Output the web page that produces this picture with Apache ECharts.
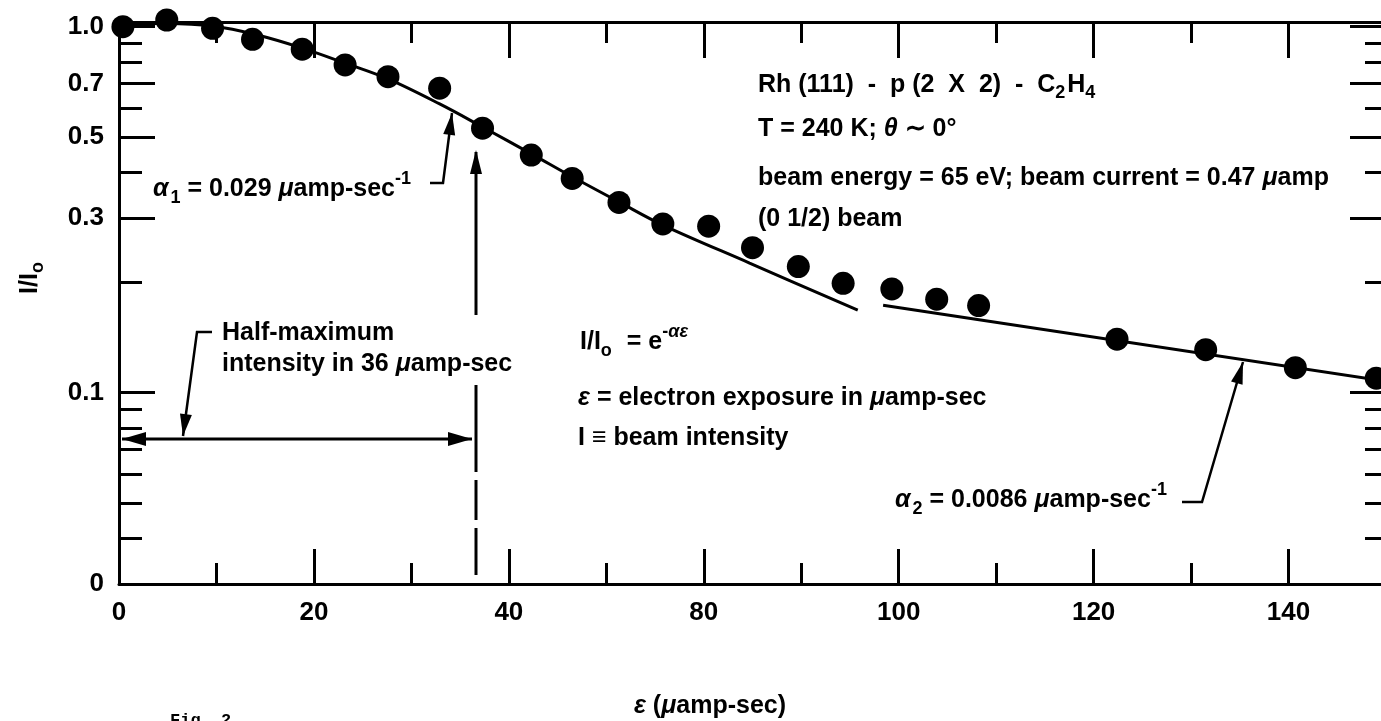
<!DOCTYPE html>
<html>
<head>
<meta charset="utf-8">
<script src="https://cdn.jsdelivr.net/npm/echarts@6/dist/echarts.min.js"></script>
<style>
html, body { margin: 0; padding: 0; background: #fff; }
#chart { width: 1381px; height: 721px; }
</style>
</head>
<body>
<div id="chart"></div>
<script>
// measured spots: electron exposure (uamp-sec) and I/Io
const exposure = [0.4, 4.9, 9.6, 13.7, 18.8, 23.2, 27.6, 32.9, 37.3, 42.3, 46.5, 51.3, 55.8, 60.5, 65.0, 69.7, 74.3, 79.3, 83.9, 88.2, 102.4, 111.5, 120.7, 129.0];
const intensity = [1.0, 1.043, 0.99, 0.924, 0.868, 0.786, 0.73, 0.679, 0.528, 0.446, 0.385, 0.331, 0.289, 0.285, 0.249, 0.221, 0.199, 0.192, 0.18, 0.173, 0.14, 0.131, 0.117, 0.1095];

// fitted curve, alpha1
const fit1X = [0, 4.9, 9.6, 14.2, 18.8, 23.2, 27.6, 32.9, 37.3, 42.4, 46.5, 51.3, 55.8, 64.7, 75.8];
const fit1Y = [1.017, 1.02, 1.004, 0.949, 0.874, 0.795, 0.72, 0.615, 0.532, 0.448, 0.389, 0.332, 0.287, 0.226, 0.168];
// fitted line, alpha2
const fit2X = [78.4, 130];
const fit2Y = [0.1733, 0.1075];

const xMajor = [0, 20, 40, 60, 80, 100, 120];
const xMinor = [10, 30, 50, 70, 90, 110];
const xTickLabels = ['0', '20', '40', '80', '100', '120', '140']; // as printed on the figure
const yMajor = [1.0, 0.7, 0.5, 0.3, 0.1, 0.03];
const yMinor = [0.9, 0.8, 0.6, 0.4, 0.2, 0.09, 0.08, 0.07, 0.06, 0.05, 0.04];
const yTickLabels = ['1.0', '0.7', '0.5', '0.3', '0.1', '0'];

const halfMax = 36.6;     // half-maximum exposure marker
const arrowLevel = 0.0747; // height of the double arrow

const FONT = '"Liberation Sans", Arial, Helvetica, sans-serif';
const labelStyle = { color: '#000', fontFamily: FONT, fontWeight: 'bold', fontSize: 26 };

function pairs(xs, ys) {
	return xs.map((x, i) => [x, ys[i]]);
}

function axisBase(pos, ticks, len, showLine) {
	return {
		position: pos,
		axisLine: { show: showLine, onZero: false, lineStyle: { color: '#000', width: 3 } },
		axisTick: { show: true, inside: true, length: len, customValues: ticks, lineStyle: { color: '#000', width: 3 } },
		axisLabel: { show: false },
		splitLine: { show: false },
	};
}
function xAxisDef(pos, ticks, len, showLine) {
	return Object.assign(axisBase(pos, ticks, len, showLine), { type: 'value', min: 0, max: 130 });
}
function yAxisDef(pos, ticks, len, showLine) {
	return Object.assign(axisBase(pos, ticks, len, showLine), { type: 'log', logBase: 10, min: 0.03, max: 1.03 });
}

const xMain = xAxisDef('bottom', xMajor, 35, true);
xMain.axisLabel = Object.assign({}, labelStyle, {
	show: true,
	margin: 16,
	customValues: xMajor,
	formatter: (v) => xTickLabels[xMajor.indexOf(Math.round(v))] || '',
});
const yMain = yAxisDef('left', yMajor, 36, true);
yMain.axisLabel = Object.assign({}, labelStyle, {
	show: true,
	margin: 15,
	customValues: yMajor,
	formatter: (v) => {
		let best = 0;
		yMajor.forEach((t, i) => {
			if (Math.abs(Math.log(t / v)) < Math.abs(Math.log(yMajor[best] / v))) best = i;
		});
		return yTickLabels[best];
	},
});

const chart = echarts.init(document.getElementById('chart'));
chart.setOption({
	animation: false,
	backgroundColor: '#fff',
	grid: { left: 119, right: -5, top: 22, bottom: 137, outerBoundsMode: 'none' },
	xAxis: [xMain, xAxisDef('bottom', xMinor, 21, false), xAxisDef('top', xMajor, 36, true), xAxisDef('top', xMinor, 21, false)],
	yAxis: [yMain, yAxisDef('left', yMinor, 23, false), yAxisDef('right', yMajor, 36, true), yAxisDef('right', yMinor, 21, false)],
	series: [
		{
			type: 'line',
			data: pairs(fit1X, fit1Y),
			showSymbol: false,
			smooth: 0.35,
			clip: false,
			lineStyle: { color: '#000', width: 3 },
		},
		{
			type: 'line',
			data: pairs(fit2X, fit2Y),
			showSymbol: false,
			clip: false,
			lineStyle: { color: '#000', width: 3 },
		},
		{
			type: 'scatter',
			data: pairs(exposure, intensity),
			symbol: 'circle',
			symbolSize: 23,
			clip: false,
			itemStyle: { color: '#000', opacity: 1 },
			z: 5,
		},
	],
});

// ---- annotations ----
const measureCtx = document.createElement('canvas').getContext('2d');
function fontOf(p) {
	return (p.italic ? 'italic ' : '') + (p.weight || 'bold') + ' ' + (p.size || 25) + 'px ' + (p.family || FONT);
}
// lay out text pieces one after another (sub/superscripts via dy)
function textRun(x, y, parts, opt) {
	opt = opt || {};
	const rot = opt.rotation || 0;
	const ux = Math.cos(rot), uy = -Math.sin(rot);
	const vx = Math.sin(rot), vy = Math.cos(rot);
	const widths = parts.map((p) => {
		measureCtx.font = fontOf(p);
		return measureCtx.measureText(p.t).width + (p.gap || 0);
	});
	let adv = 0;
	if (opt.align === 'center') adv = -widths.reduce((a, b) => a + b, 0) / 2;
	return parts.map((p, i) => {
		const dy = p.dy || 0;
		const el = {
			type: 'text',
			silent: true,
			x: x + ux * adv + vx * dy,
			y: y + uy * adv + vy * dy,
			rotation: rot,
			style: { text: p.t, font: fontOf(p), fill: '#000', textAlign: 'left', textVerticalAlign: 'middle', verticalAlign: 'middle' },
		};
		adv += widths[i];
		return el;
	});
}
function line(points, w) {
	return { type: 'polyline', silent: true, shape: { points: points }, style: { stroke: '#000', lineWidth: w || 2.5, fill: null } };
}
function head(tip, from, len, hw) {
	len = len || 22;
	hw = hw || 6;
	const dx = tip[0] - from[0], dy = tip[1] - from[1];
	const d = Math.sqrt(dx * dx + dy * dy);
	const ux = dx / d, uy = dy / d;
	const bx = tip[0] - ux * len, by = tip[1] - uy * len;
	return {
		type: 'polygon',
		silent: true,
		shape: { points: [tip, [bx - uy * hw, by + ux * hw], [bx + uy * hw, by - ux * hw]] },
		style: { fill: '#000' },
	};
}

const SUB = 18;
const xv = chart.convertToPixel({ xAxisIndex: 0, yAxisIndex: 0 }, [halfMax, arrowLevel]);
const x0 = chart.convertToPixel({ xAxisIndex: 0, yAxisIndex: 0 }, [0, arrowLevel]);
const hx = Math.round(xv[0]);
const hy = Math.round(xv[1]);

let els = [];
els = els.concat(
	textRun(758, 85, [{ t: 'Rh (111)  -  p (2  X  2)  -  C' }, { t: '2', size: SUB, dy: 8, gap: 2 }, { t: 'H' }, { t: '4', size: SUB, dy: 8 }]),
	textRun(758, 129, [{ t: 'T = 240 K; ' }, { t: 'θ', italic: true }, { t: ' ∼ 0°' }]),
	textRun(758, 178, [{ t: 'beam energy = 65 eV; beam current = 0.47 ' }, { t: 'μ', italic: true }, { t: 'amp' }]),
	textRun(758, 219, [{ t: '(0 1/2) beam' }]),
	textRun(153, 189, [{ t: 'α', italic: true, gap: 2 }, { t: '1', size: SUB, dy: 9 }, { t: ' = 0.029 ' }, { t: 'μ', italic: true }, { t: 'amp-sec' }, { t: '-1', size: SUB, dy: -10 }]),
	textRun(222, 333, [{ t: 'Half-maximum' }]),
	textRun(222, 364, [{ t: 'intensity in 36 ' }, { t: 'μ', italic: true }, { t: 'amp-sec' }]),
	textRun(580, 342, [{ t: 'I/I' }, { t: 'o', size: SUB, dy: 9, gap: 8 }, { t: ' = e' }, { t: '-', size: SUB, dy: -10 }, { t: 'αε', size: SUB, dy: -10, italic: true }]),
	textRun(578, 398, [{ t: 'ε', italic: true }, { t: ' = electron exposure in ' }, { t: 'μ', italic: true }, { t: 'amp-sec' }]),
	textRun(578, 438, [{ t: 'I ≡ beam intensity' }]),
	textRun(895, 500, [{ t: 'α', italic: true, gap: 2 }, { t: '2', size: SUB, dy: 9 }, { t: ' = 0.0086 ' }, { t: 'μ', italic: true }, { t: 'amp-sec' }, { t: '-1', size: SUB, dy: -10 }]),
	textRun(710, 706, [{ t: 'ε', italic: true }, { t: ' (' }, { t: 'μ', italic: true }, { t: 'amp-sec)' }], { align: 'center' }),
	textRun(30, 278, [{ t: 'I/I' }, { t: 'o', size: SUB, dy: 8 }], { align: 'center', rotation: Math.PI / 2 })
);
els.push({
	type: 'text',
	silent: true,
	x: 170,
	y: 712,
	style: { text: 'Fig. 2', font: 'bold 17px "Liberation Mono", "Courier New", monospace', fill: '#000', textVerticalAlign: 'top', verticalAlign: 'top' },
});

// alpha1 leader
els.push(line([[430, 183], [443, 183], [452, 113]]), head([452, 113], [443, 183]));
// alpha2 leader
els.push(line([[1182, 502], [1202, 502], [1243, 362]]), head([1243, 362], [1202, 502]));
// half-maximum leader
els.push(line([[212, 332], [197, 332], [183, 436]]), head([183, 436], [197, 332]));
// half-maximum vertical marker (solid, then dashed)
els.push(line([[hx, 152], [hx, 315]], 3), head([hx, 150], [hx, 315], 24, 6));
els.push(line([[hx, 385], [hx, 472]], 3), line([[hx, 480], [hx, 520]], 3), line([[hx, 528], [hx, 575]], 3));
// double arrow
const ax0 = Math.round(x0[0]) + 3, ax1 = hx - 4;
els.push(line([[ax0, hy], [ax1, hy]], 3), head([ax0, hy], [ax1, hy], 24, 7), head([ax1, hy], [ax0, hy], 24, 7));

chart.setOption({ graphic: { elements: els } });
</script>
</body>
</html>
